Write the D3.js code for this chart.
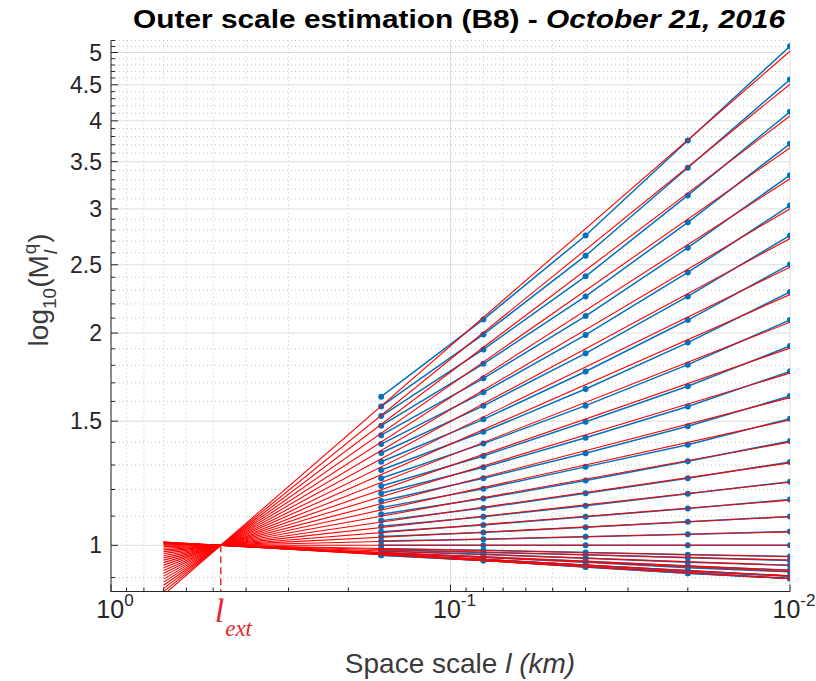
<!DOCTYPE html>
<html>
<head>
<meta charset="utf-8">
<script src="https://cdn.jsdelivr.net/npm/d3@7"></script>
<style>
  html, body { margin: 0; padding: 0; background: #fff; }
  svg { display: block; font-family: "Liberation Sans", Arial, Helvetica, sans-serif; }
</style>
</head>
<body>
<svg id="chart" width="816" height="681"></svg>
<script>
// ---- data ----
const scales = [0.16, 0.08, 0.04, 0.02, 0.01];          // space scale l (km)
const qValues = [3.0, 2.9, 2.8, 2.7, 2.6, 2.5, 2.4, 2.3, 2.2, 2.1, 2.0, 1.9, 1.8, 1.7, 1.6,
                 1.5, 1.4, 1.3, 1.2, 1.1, 1.0, 0.9, 0.8, 0.7, 0.6, 0.5, 0.4, 0.3, 0.2, 0.1];

// moments M_l^q at each scale, one entry per q
const m016 = [1.625, 1.574, 1.525, 1.478, 1.433, 1.392, 1.352, 1.314, 1.279, 1.245, 1.214, 1.185, 1.156, 1.131, 1.107,
              1.084, 1.064, 1.045, 1.029, 1.014, 1.000, 0.989, 0.981, 0.974, 0.970, 0.968, 0.968, 0.970, 0.976, 0.985];
const m008 = [2.091, 1.991, 1.896, 1.809, 1.725, 1.648, 1.577, 1.509, 1.449, 1.394, 1.339, 1.290, 1.245, 1.203, 1.165,
              1.130, 1.098, 1.069, 1.043, 1.020, 1.000, 0.984, 0.971, 0.962, 0.955, 0.952, 0.952, 0.955, 0.963, 0.977];
const m004 = [2.751, 2.575, 2.407, 2.254, 2.114, 1.988, 1.872, 1.764, 1.666, 1.578, 1.497, 1.421, 1.351, 1.292, 1.236,
              1.185, 1.138, 1.098, 1.061, 1.028, 1.000, 0.977, 0.959, 0.946, 0.937, 0.932, 0.932, 0.937, 0.949, 0.970];
const m002 = [3.751, 3.432, 3.135, 2.872, 2.643, 2.438, 2.254, 2.087, 1.939, 1.804, 1.681, 1.574, 1.475, 1.389, 1.316,
              1.245, 1.183, 1.128, 1.080, 1.037, 1.000, 0.970, 0.946, 0.929, 0.919, 0.913, 0.913, 0.919, 0.934, 0.960];
const m001 = [5.104, 4.578, 4.121, 3.711, 3.350, 3.034, 2.751, 2.503, 2.287, 2.087, 1.917, 1.765, 1.628, 1.512, 1.406,
              1.313, 1.231, 1.161, 1.099, 1.046, 1.000, 0.964, 0.937, 0.917, 0.904, 0.897, 0.897, 0.904, 0.922, 0.952];

// fitted lines: value reached at l = 0.01, all lines pass through (lExt, 1)
const fitAt001 = [5.021, 4.508, 4.063, 3.663, 3.310, 3.001, 2.723, 2.480, 2.268, 2.072, 1.904, 1.755, 1.620, 1.506, 1.401,
                  1.309, 1.229, 1.159, 1.098, 1.045, 1.000, 0.964, 0.937, 0.918, 0.905, 0.897, 0.897, 0.905, 0.922, 0.953];
const lExt = 0.475;
const fitFrom = 0.70;
const fitTo = 0.01;

const yTicks = [1, 1.5, 2, 2.5, 3, 3.5, 4, 4.5, 5];
const xTicks = [1, 0.1, 0.01];
const xTickExps = ["0", "-1", "-2"];

// ---- layout ----
const plotL = 111, plotR = 790, plotT = 40.5, plotB = 591.5;
const textColor = "#262626";
const blue = "#0072BD", red = "#ff0000";

const svg = d3.select("#chart");

const x = d3.scaleLog().domain([1, 0.01]).range([plotL, plotR]);
const y = d3.scaleLog().domain([0.86, 5.2]).range([plotB, plotT]);

svg.append("defs").append("clipPath").attr("id", "plot-clip")
    .append("rect")
    .attr("x", plotL).attr("y", plotT)
    .attr("width", plotR - plotL).attr("height", plotB - plotT);

// minor tick positions
const yMinor = d3.range(9, 53).map(i => i / 10).filter(v => !yTicks.some(t => Math.abs(t - v) < 1e-9));
const xMinor = d3.range(2, 10).map(i => i / 10).concat(d3.range(2, 10).map(i => i / 100));

// ---- grid ----
const grid = svg.append("g");
grid.selectAll(".ymin").data(yMinor).join("line")
    .attr("x1", plotL).attr("x2", plotR)
    .attr("y1", d => y(d)).attr("y2", d => y(d))
    .attr("stroke", "#c4c4c4").attr("stroke-width", 1).attr("stroke-dasharray", "1,3");
grid.selectAll(".xmin").data(xMinor).join("line")
    .attr("y1", plotT).attr("y2", plotB)
    .attr("x1", d => x(d)).attr("x2", d => x(d))
    .attr("stroke", "#c4c4c4").attr("stroke-width", 1).attr("stroke-dasharray", "1,3");
grid.selectAll(".ymaj").data(yTicks).join("line")
    .attr("x1", plotL).attr("x2", plotR)
    .attr("y1", d => y(d)).attr("y2", d => y(d))
    .attr("stroke", "#dedede").attr("stroke-width", 1);
grid.selectAll(".xmaj").data(xTicks).join("line")
    .attr("y1", plotT).attr("y2", plotB)
    .attr("x1", d => x(d)).attr("x2", d => x(d))
    .attr("stroke", "#dedede").attr("stroke-width", 1);

// ---- series ----
const columns = [m016, m008, m004, m002, m001];
const series = qValues.map((q, i) => scales.map((l, j) => ({ l: l, m: columns[j][i] })));

const plot = svg.append("g").attr("clip-path", "url(#plot-clip)");
const line = d3.line().x(d => x(d.l)).y(d => y(d.m));

plot.append("g").selectAll("path").data(series).join("path")
    .attr("d", line)
    .attr("fill", "none").attr("stroke", blue).attr("stroke-width", 1.5);

plot.append("g").selectAll("circle").data(series.flat()).join("circle")
    .attr("cx", d => x(d.l)).attr("cy", d => y(d.m)).attr("r", 3)
    .attr("fill", blue);

// straight fitted lines in log-log through (lExt, 1) and (0.01, fitAt001)
const fitValue = (l, vEnd) => Math.pow(vEnd, Math.log(lExt / l) / Math.log(lExt / fitTo));
const fits = fitAt001.map(v => [fitFrom, fitTo].map(l => ({ l: l, m: fitValue(l, v) })));

plot.append("g").selectAll("path").data(fits).join("path")
    .attr("d", line)
    .attr("fill", "none").attr("stroke", red).attr("stroke-width", 1.1);

// l_ext marker
svg.append("line")
    .attr("x1", x(lExt)).attr("x2", x(lExt))
    .attr("y1", y(1)).attr("y2", plotB)
    .attr("stroke", "#ee3030").attr("stroke-width", 1.5).attr("stroke-dasharray", "7,4");

// ---- axes ----
const axes = svg.append("g").attr("stroke", textColor);
axes.append("line").attr("x1", plotL).attr("x2", plotL).attr("y1", plotT).attr("y2", plotB + 0.5).attr("stroke-width", 1);
axes.append("line").attr("x1", plotL).attr("x2", plotR).attr("y1", plotB).attr("y2", plotB).attr("stroke-width", 1);

axes.selectAll(".yt").data(yTicks).join("line")
    .attr("x1", plotL).attr("x2", plotL + 7).attr("y1", d => y(d)).attr("y2", d => y(d));
axes.selectAll(".ytm").data(yMinor).join("line")
    .attr("x1", plotL).attr("x2", plotL + 4).attr("y1", d => y(d)).attr("y2", d => y(d));
axes.selectAll(".xt").data(xTicks).join("line")
    .attr("y1", plotB).attr("y2", plotB - 7).attr("x1", d => x(d)).attr("x2", d => x(d));
axes.selectAll(".xtm").data(xMinor).join("line")
    .attr("y1", plotB).attr("y2", plotB - 4).attr("x1", d => x(d)).attr("x2", d => x(d));

svg.append("g").selectAll("text").data(yTicks).join("text")
    .attr("x", plotL - 9).attr("y", d => y(d) + 8)
    .attr("text-anchor", "end").attr("font-size", 23).attr("fill", textColor)
    .text(d => String(d));

const xLab = svg.append("g").selectAll("text").data(xTicks).join("text")
    .attr("x", d => x(d) + 4).attr("y", 618)
    .attr("text-anchor", "middle").attr("font-size", 25).attr("fill", textColor);
xLab.append("tspan").text("10");
xLab.append("tspan").attr("font-size", 17).attr("dy", -12).text((d, i) => xTickExps[i]);

// ---- titles ----
const title = svg.append("text")
    .attr("x", 459).attr("y", 28)
    .attr("text-anchor", "middle").attr("font-size", 26).attr("font-weight", "bold").attr("fill", "#000");
title.append("tspan").text("Outer scale estimation (B8) - ");
title.append("tspan").attr("font-style", "italic").text("October 21, 2016");
title.attr("textLength", 652).attr("lengthAdjust", "spacingAndGlyphs");

const xTitle = svg.append("text")
    .attr("x", 460).attr("y", 673)
    .attr("text-anchor", "middle").attr("font-size", 28).attr("fill", "#3a3a3a");
xTitle.append("tspan").text("Space scale ");
xTitle.append("tspan").attr("font-style", "italic").text("l (km)");

// y label: log10(M^q_l), rotated
const yTitle = svg.append("g").attr("transform", "translate(48,290) rotate(-90)").attr("fill", "#3a3a3a");
function piece(txt, size, dy, italic) {
    const t = yTitle.append("text").attr("font-size", size).attr("y", dy).text(txt);
    if (italic) t.attr("font-style", "italic");
    return t;
}
let cx = 0;
[["log", 28, 0], ["10", 19, 8], ["(M", 28, 0]].forEach(p => {
    const t = piece(p[0], p[1], p[2]).attr("x", cx);
    cx += t.node().getComputedTextLength();
});
const tq = piece("q", 19, -12).attr("x", cx + 1);
const tl = piece("l", 19, 9, true).attr("x", cx + 1);
cx += Math.max(tq.node().getComputedTextLength(), tl.node().getComputedTextLength()) + 2;
piece(")", 28, 0).attr("x", cx);
cx += 9;
yTitle.selectAll("text").attr("x", function () { return +d3.select(this).attr("x") - cx / 2; });

// l_ext label
const ext = svg.append("text")
    .attr("x", x(lExt) - 6).attr("y", 622)
    .attr("font-family", "'Liberation Serif', 'Times New Roman', serif")
    .attr("font-style", "italic").attr("fill", "#e8262b");
ext.append("tspan").attr("font-size", 34).text("l");
ext.append("tspan").attr("font-size", 23).attr("dy", 14).attr("dx", 1).text("ext");
</script>
</body>
</html>
